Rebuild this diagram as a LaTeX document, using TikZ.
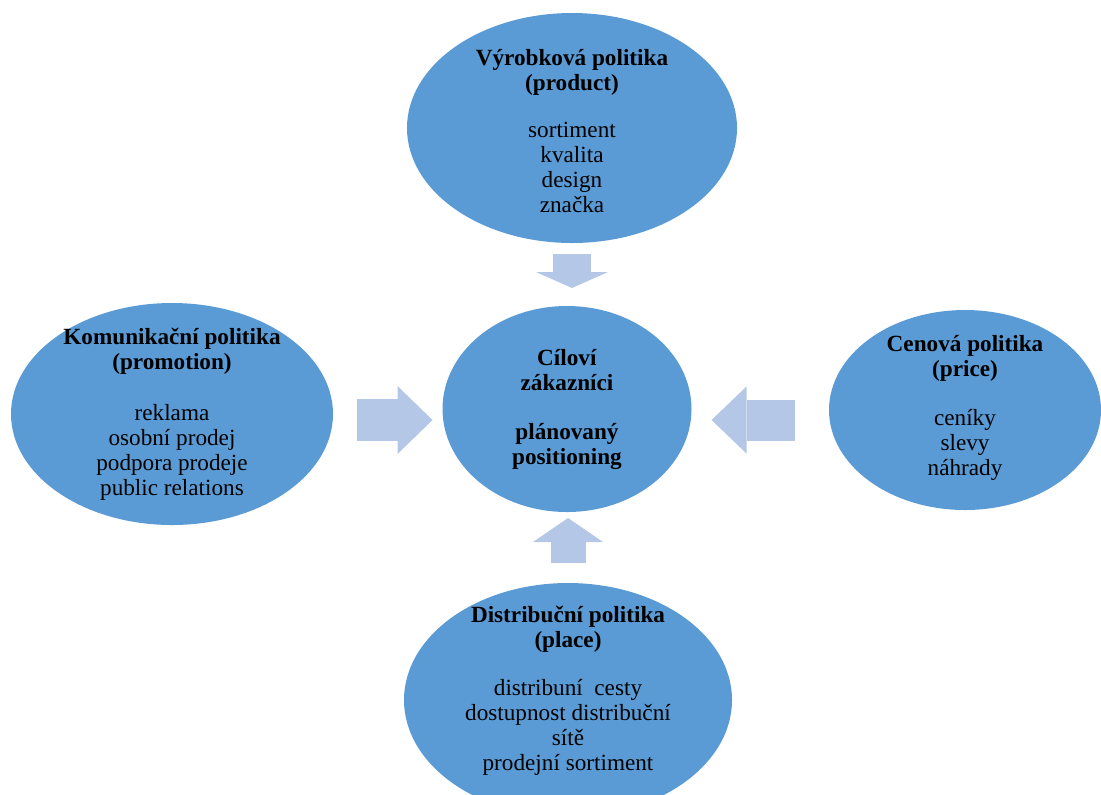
\documentclass[tikz,border=0pt]{standalone}
\usepackage{fontspec}
\setmainfont{Liberation Serif}
\usepackage{tikz}
\usetikzlibrary{
  arrows.meta,positioning,shapes.geometric
}
\definecolor{OfficeBlue}{RGB}{91,155,213}
\definecolor{PaleBlue}{RGB}{180,199,231}
\tikzset{
  mixdisc/.style={ellipse,fill=OfficeBlue,draw=none,inner sep=0pt,outer sep=0pt},
  mixtext/.style={align=center,inner sep=0pt,font=\fontsize{11.6}{12.5}\selectfont},
  push/.style={draw=PaleBlue,line cap=butt}
}

\begin{document}
\begin{tikzpicture}[x=0.5pt,y=-0.5pt,>=Latex]
      \useasboundingbox (0,0) rectangle (1101,794);
      % the five ellipses
      \node[mixdisc,minimum width=124.5pt,minimum height=103pt] (goal) at (567,409) {};
      \node[mixdisc,minimum width=165pt,minimum height=115pt] (product) at (572,128) {};
      \node[mixdisc,minimum width=161pt,minimum height=111pt] (promo) at (172,414) {};
      \node[mixdisc,minimum width=136pt,minimum height=100pt] (price) at (965,410) {};
      \node[mixdisc,minimum width=164pt,minimum height=117pt] (place) at (568,700) {};
      % texts
      \node[mixtext] (goal-t) at (567,409)
        {\textbf{Cíloví}\\\textbf{zákazníci}\\[12pt]\textbf{plánovaný}\\\textbf{positioning}};
      \node[mixtext] (product-t) at (572,131)
        {\textbf{Výrobková politika}\\\textbf{(product)}\\[11pt]sortiment\\kvalita\\design\\značka};
      \node[mixtext] (promo-t) at (172,414)
        {\textbf{Komunikační politika}\\\textbf{(promotion)}\\[13pt]reklama\\osobní prodej\\podpora prodeje\\public relations};
      \node[mixtext] (price-t) at (965,408)
        {\textbf{Cenová politika}\\\textbf{(price)}\\[12pt]ceníky\\slevy\\náhrady};
      \node[mixtext] (place-t) at (568,691)
        {\textbf{Distribuční politika}\\\textbf{(place)}\\[11.5pt]distribuní\ \ cesty\\dostupnost distribuční\\sítě\\prodejní sortiment};
      % block arrows
      \draw[push,line width=19pt,-{Triangle[length=8pt,width=36pt,line width=0pt]},
        shorten <=5.5pt,shorten >=9pt] (product.south) -- (product.south |- goal.north);
      \draw[push,line width=17.5pt,-{Triangle[length=12pt,width=35pt,line width=0pt]},
        shorten <=10pt,shorten >=3pt] (place.north) -- (place.north |- goal.south);
      \draw[push,line width=21pt,-{Triangle[length=17.5pt,width=34pt,line width=0pt]},
        shorten <=12pt,shorten >=5pt] ([yshift=-3pt]promo.east) -- ([yshift=-3pt]promo.east -| goal.west);
      \draw[push,line width=20.5pt,-{Triangle[length=17.5pt,width=33.5pt,line width=0pt]},
        shorten <=17pt,shorten >=10pt] ([yshift=-5pt]price.west) -- ([yshift=-5pt]price.west -| goal.east);
    \end{tikzpicture}
\end{document}
